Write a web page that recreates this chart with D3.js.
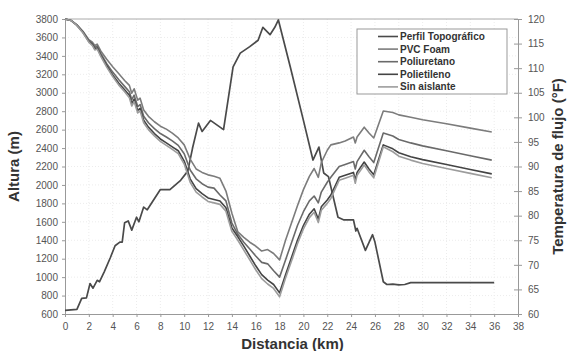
<!DOCTYPE html>
<html>
<head>
<meta charset="utf-8">
<script src="https://d3js.org/d3.v7.min.js"></script>
<style>
  body { margin: 0; background: #fff; }
  svg { display: block; font-family: Arial, "Liberation Sans", sans-serif; }
</style>
</head>
<body>
<svg id="chart" width="568" height="351"></svg>
<script>
// Perfil topografico (left axis, m)
const topoKm = [0, 1, 1.4, 1.8, 2.1, 2.35, 2.7, 2.9, 3.3, 3.8, 4.2, 4.6, 4.8, 5.0, 5.3, 5.6, 6.0, 6.2, 6.6, 6.9,
  8.0, 8.8, 9.7, 10.3, 10.7, 11.2, 11.5, 12.2, 13.3, 14.1, 14.7, 15.5, 16.2, 16.6, 17.2, 17.6, 17.9, 18.9, 20.0,
  20.8, 21.3, 21.7, 22.1, 22.9, 23.4, 24.2, 24.4, 24.5, 25.2, 25.8, 26.0, 26.7, 27.0, 27.5, 28, 28.5, 29, 36];
const topoAlt = [640, 650, 770, 775, 930, 880, 965, 950, 1060, 1210, 1340, 1380, 1380, 1590, 1610, 1510, 1650, 1600, 1760, 1730,
  1950, 1950, 2050, 2150, 2400, 2670, 2580, 2700, 2600, 3280, 3430, 3500, 3570, 3710, 3630, 3710, 3790, 3280, 2700,
  2270, 2410, 2130, 2090, 1650, 1620, 1620, 1500, 1530, 1290, 1460, 1380, 950, 920, 925, 915, 920, 940, 940];

// Temperatura de flujo (right axis, F)
const tempKm = [0, 0.5, 1, 1.5, 2, 2.3, 2.5, 2.7, 3, 3.5, 4, 4.5, 5, 5.4, 5.6, 5.8, 6.1, 6.3, 6.6, 7,
  7.5, 8, 8.5, 9, 9.5, 10, 10.5, 11, 11.5, 12, 12.5, 13, 13.5, 14, 14.5, 15, 15.5, 16, 16.5, 17,
  17.5, 18, 18.5, 19, 19.5, 20, 20.5, 20.9, 21.25, 21.5, 22, 22.3, 23, 23.5, 24.2, 24.35, 24.5, 25.1, 25.5, 25.9,
  26.7, 27.5, 28, 29, 30, 32, 34, 35.8];
const pvcFoam = [120, 119.7, 118.8, 117.5, 115.8, 115.3, 114.6, 114.9, 113.5, 111.8,
  110.3, 108.9, 107.5, 106.5, 104.9, 105.8, 103.5, 103.9, 101.5, 100.2,
  99.1, 98.2, 97.6, 96.8, 95.8, 94.4, 91.5, 89.5, 88.8, 88.3,
  88.0, 87.6, 85.0, 80.5, 76.7, 75.6, 74.6, 73.8, 72.8, 73.1,
  72.3, 71.0, 75.0, 78.5, 82.0, 85.3, 88.0, 89.6, 87.8, 90.8,
  93.3, 94.4, 94.8, 95.2, 96.0, 94.8, 96.0, 98.0, 96.8, 95.8,
  101.3, 101.0, 100.5, 100.0, 99.5, 98.7, 97.8, 97.0];
const poliuretano = [120, 119.7, 118.8, 117.4, 115.6, 115.0, 114.2, 114.5, 113.0, 110.9,
  109.2, 107.7, 106.3, 105.2, 103.6, 104.5, 102.2, 102.6, 100.2, 98.9,
  97.7, 96.7, 96.0, 95.2, 94.3, 92.6, 89.3, 87.5, 86.5, 85.8,
  85.6, 84.2, 83.0, 78.5, 76.2, 74.6, 73.2, 71.8, 70.5, 70.2,
  68.8, 67.5, 71.0, 74.5, 78.0, 80.8, 83.0, 84.0, 82.6, 84.8,
  86.8, 87.8, 90.0, 90.4, 91.0, 89.5, 91.0, 93.3, 92.0, 90.8,
  96.8, 96.2, 95.5, 94.8, 94.2, 93.2, 92.2, 91.3];
const polietileno = [120, 119.7, 118.7, 117.3, 115.4, 114.8, 113.9, 114.1, 112.6, 110.5,
  108.6, 107.0, 105.6, 104.5, 102.8, 103.7, 101.4, 101.8, 99.4, 98.0,
  96.7, 95.6, 94.8, 94.0, 93.2, 91.1, 87.5, 85.5, 84.5, 83.6,
  83.3, 83.0, 81.6, 77.5, 75.7, 73.8, 71.8, 69.8, 68.0, 66.9,
  66.0, 64.3, 68.0, 71.5, 75.0, 78.0, 80.3, 81.4, 79.3, 81.8,
  83.2, 84.2, 87.8, 88.2, 88.8, 87.2, 88.8, 90.9, 89.5, 88.3,
  94.4, 93.6, 92.8, 92.0, 91.4, 90.4, 89.4, 88.5];
const sinAislante = [120, 119.7, 118.7, 117.2, 115.3, 114.6, 113.7, 113.9, 112.4, 110.2,
  108.3, 106.6, 105.2, 104.0, 102.3, 103.2, 100.9, 101.3, 98.9, 97.5,
  96.2, 95.1, 94.3, 93.5, 92.6, 90.5, 86.8, 84.8, 83.8, 82.9,
  82.6, 82.3, 80.9, 76.8, 75.0, 73.0, 71.0, 69.0, 67.2, 66.1,
  65.2, 63.5, 67.3, 70.8, 74.3, 77.3, 79.6, 80.7, 78.6, 81.1,
  82.5, 83.5, 87.2, 87.6, 88.2, 86.6, 88.2, 90.3, 88.9, 87.7,
  94.0, 93.0, 92.1, 91.3, 90.6, 89.6, 88.6, 87.7];

const xTicks = d3.range(0, 39, 2);
const altTicks = d3.range(600, 3801, 200);
const tempTicks = d3.range(60, 121, 5);

const legendNames = ['Perfil Topográfico', 'PVC Foam', 'Poliuretano', 'Polietileno', 'Sin aislante'];
const seriesColors = ['#4a4a4a', '#7c7c7c', '#6a6a6a', '#444', '#9c9c9c'];

const W = 568, H = 351;
const margin = { top: 19, right: 50, bottom: 37, left: 65 };

const svg = d3.select('#chart');

const x = d3.scaleLinear().domain([0, 38]).range([margin.left, W - margin.right]);
const yAlt = d3.scaleLinear().domain([600, 3800]).range([H - margin.bottom, margin.top]);
const yTemp = d3.scaleLinear().domain([60, 120]).range([H - margin.bottom, margin.top]);

// faint grid
const grid = svg.append('g').attr('stroke', '#ececec').attr('stroke-dasharray', '1,2');
grid.selectAll('.gx').data(xTicks.slice(1, -1)).enter().append('line')
  .attr('x1', d => x(d)).attr('x2', d => x(d))
  .attr('y1', yAlt.range()[0]).attr('y2', yAlt.range()[1]);
grid.selectAll('.gy').data(altTicks.slice(1, -1)).enter().append('line')
  .attr('x1', x.range()[0]).attr('x2', x.range()[1])
  .attr('y1', d => yAlt(d)).attr('y2', d => yAlt(d));

// top border
svg.append('line')
  .attr('x1', x.range()[0]).attr('x2', x.range()[1])
  .attr('y1', margin.top).attr('y2', margin.top)
  .attr('stroke', '#aaa');

function styleAxis(g) {
  g.select('.domain').attr('stroke', '#999');
  g.selectAll('.tick line').attr('stroke', '#999');
  g.selectAll('.tick text').attr('fill', '#555').style('font-size', '10px');
}

svg.append('g')
  .attr('transform', `translate(0,${H - margin.bottom})`)
  .call(d3.axisBottom(x).tickValues(xTicks).tickSize(3).tickSizeOuter(0).tickPadding(6))
  .call(styleAxis);

svg.append('g')
  .attr('transform', `translate(${margin.left},0)`)
  .call(d3.axisLeft(yAlt).tickValues(altTicks).tickFormat(d3.format('d')).tickSize(3).tickSizeOuter(0).tickPadding(4))
  .call(styleAxis);

const rightAxis = svg.append('g')
  .attr('transform', `translate(${W - margin.right},0)`)
  .call(d3.axisRight(yTemp).tickValues(tempTicks).tickSize(4).tickSizeOuter(0).tickPadding(6))
  .call(styleAxis);
rightAxis.selectAll('.tick line').attr('x1', -4);

// series
const topoLine = d3.line().x((d, i) => x(topoKm[i])).y(d => yAlt(d));
const tempLine = d3.line().x((d, i) => x(tempKm[i])).y(d => yTemp(d));

const tempSeries = [pvcFoam, poliuretano, polietileno, sinAislante];

svg.append('path')
  .datum(topoAlt)
  .attr('d', topoLine)
  .attr('fill', 'none')
  .attr('stroke', seriesColors[0])
  .attr('stroke-width', 1.7)
  .attr('stroke-linejoin', 'round');

svg.selectAll('.temp').data(tempSeries).enter().append('path')
  .attr('d', tempLine)
  .attr('fill', 'none')
  .attr('stroke', (d, i) => seriesColors[i + 1])
  .attr('stroke-width', 1.6)
  .attr('stroke-linejoin', 'round');

// legend
const legend = svg.append('g').attr('transform', 'translate(357,29)');
legend.append('rect')
  .attr('width', 150).attr('height', 65)
  .attr('fill', '#fff').attr('stroke', '#999');
const rows = legend.selectAll('.row').data(legendNames).enter().append('g')
  .attr('transform', (d, i) => `translate(0,${7.5 + i * 12.6})`);
rows.append('line')
  .attr('x1', 21).attr('x2', 41)
  .attr('stroke', (d, i) => seriesColors[i]).attr('stroke-width', 1.6);
rows.append('text')
  .attr('x', 43).attr('dy', '0.35em')
  .attr('fill', '#333')
  .style('font-size', '10px').style('font-weight', 'bold')
  .text(d => d);

// axis titles
svg.append('text')
  .attr('x', (x.range()[0] + x.range()[1]) / 2 + 1).attr('y', 345)
  .attr('text-anchor', 'middle').attr('dominant-baseline', 'middle')
  .attr('fill', '#333').style('font-size', '15px').style('font-weight', 'bold')
  .text('Distancia (km)');

svg.append('text')
  .attr('transform', `translate(15,${(margin.top + H - margin.bottom) / 2}) rotate(-90)`)
  .attr('text-anchor', 'middle').attr('dominant-baseline', 'middle')
  .attr('fill', '#333').style('font-size', '15px').style('font-weight', 'bold')
  .text('Altura (m)');

svg.append('text')
  .attr('transform', `translate(559,${(margin.top + H - margin.bottom) / 2}) rotate(-90)`)
  .attr('text-anchor', 'middle').attr('dominant-baseline', 'middle')
  .attr('fill', '#333').style('font-size', '15px').style('font-weight', 'bold')
  .text('Temperatura de flujo (°F)');
</script>
</body>
</html>
